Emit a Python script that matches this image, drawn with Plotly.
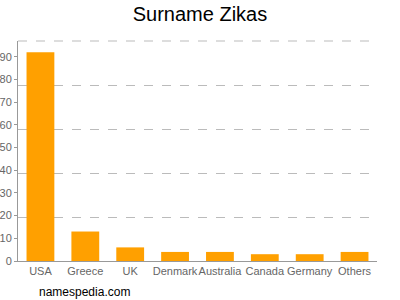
import plotly.graph_objects as go

countries = ["USA", "Greece", "UK", "Denmark", "Australia", "Canada", "Germany", "Others"]
values = [92, 13, 6, 4, 4, 3, 3, 4]
y_ticks = [0, 10, 20, 30, 40, 50, 60, 70, 80, 90]

fig = go.Figure(go.Bar(x=countries, y=values, marker=dict(color="#FFA000", line=dict(width=0)), width=0.62))

fig.update_layout(
    width=400, height=300,
    margin=dict(l=18, r=23, t=41, b=39),
    paper_bgcolor="white", plot_bgcolor="white",
    font=dict(family="Liberation Sans, Arial, sans-serif", size=11, color="#666666"),
    title=dict(text="Surname Zikas", x=0.5, xanchor="center", y=0.955, yanchor="middle",
               font=dict(size=20, color="#000000")),
    showlegend=False,
    bargap=0.38,
)
fig.update_xaxes(showline=True, linecolor="#999999", linewidth=1, ticks="", showgrid=False,
                 tickangle=0, automargin=False, tickfont=dict(size=11, color="#666666"))
fig.update_yaxes(range=[0, 97], tickvals=y_ticks, showgrid=False, showline=True, linecolor="#999999",
                 linewidth=1, ticks="outside", ticklen=3, tickcolor="#999999", zeroline=False,
                 automargin=False, tickfont=dict(size=11, color="#666666"),
                 minor=dict(dtick=19.4, tick0=0, showgrid=True, griddash="dash", gridcolor="#bbbbbb",
                            gridwidth=1, ticks=""))
fig.add_shape(type="line", xref="paper", yref="paper", x0=0, x1=1, y0=1, y1=1,
              line=dict(color="#bbbbbb", width=1, dash="dash"), layer="below")
fig.add_annotation(text="namespedia.com", xref="paper", yref="paper", x=19/359, y=-31/220,
                   xanchor="left", yanchor="middle", showarrow=False,
                   font=dict(size=12, color="#000000"))
fig.write_html("out.html")
